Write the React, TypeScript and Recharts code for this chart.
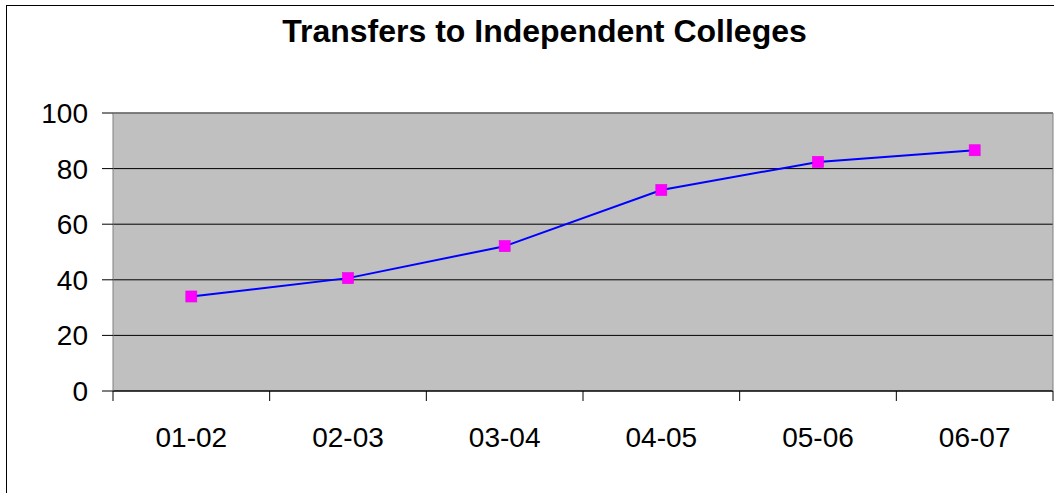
import React from 'react';
import { LineChart, Line, XAxis, YAxis, CartesianGrid, ReferenceLine } from 'recharts';

const categories = ['01-02', '02-03', '03-04', '04-05', '05-06', '06-07'];
const transfers = [34, 40.6, 52.1, 72.3, 82.4, 86.6];
const yTicks = [0, 20, 40, 60, 80, 100];
const title = 'Transfers to Independent Colleges';

const data = categories.map((c, i) => ({ pos: i + 0.5, label: c, value: transfers[i] }));
// boundaries (integers) get a tick mark, centers (halves) get the category label
const xTicks: number[] = [];
for (let i = 0; i <= categories.length; i++) {
  xTicks.push(i);
  if (i < categories.length) xTicks.push(i + 0.5);
}

const FONT = '"Liberation Sans", Arial, sans-serif';

const renderSquare = (props: any) => {
  const { cx, cy, index } = props;
  if (cx == null || cy == null) return <g key={`d${index}`} />;
  return (
    <rect
      key={`d${index}`}
      x={cx - 5.5}
      y={cy - 5.5}
      width={11}
      height={11}
      fill="#FF00FF"
      stroke="#E400E4"
      strokeWidth={0.6}
    />
  );
};

const XTick = (props: any) => {
  const { x, y, payload } = props;
  const v = payload.value as number;
  if (Number.isInteger(v)) {
    return <line x1={x} y1={y} x2={x} y2={y + 10} stroke="#000" strokeWidth={1} />;
  }
  return (
    <text
      x={x}
      y={y + 36}
      dy="0.71em"
      textAnchor="middle"
      fill="#000"
      fontSize={28}
      fontFamily={FONT}
    >
      {categories[Math.floor(v)]}
    </text>
  );
};

export default function App() {
  return (
    <div
      style={{
        position: 'absolute',
        left: 0,
        top: 0,
        width: 1054,
        height: 493,
        overflow: 'hidden',
        background: '#fff',
      }}
    >
      <div
        style={{
          position: 'absolute',
          left: 6,
          top: 5,
          width: 1200,
          height: 700,
          border: '1px solid #000',
          boxSizing: 'border-box',
        }}
      />
      <div
        style={{
          position: 'absolute',
          left: 0,
          top: 12,
          width: 1089,
          textAlign: 'center',
          fontFamily: FONT,
          fontWeight: 'bold',
          fontSize: 32,
          lineHeight: '38px',
          color: '#000',
        }}
      >
        {title}
      </div>
      <div style={{ position: 'absolute', left: 0, top: 0 }}>
        <LineChart
          width={1054}
          height={493}
          data={data}
          margin={{ top: 113, right: 0, left: 0, bottom: 0 }}
        >
          <CartesianGrid
            vertical={false}
            stroke="#000"
            strokeWidth={1}
            fill="#C0C0C0"
            fillOpacity={1}
          />
          <XAxis
            type="number"
            dataKey="pos"
            domain={[0, 6]}
            ticks={xTicks}
            interval={0}
            height={102}
            tickSize={0}
            tickMargin={0}
            tickLine={false}
            axisLine={{ stroke: '#000' }}
            tick={<XTick />}
          />
          <YAxis
            domain={[0, 100]}
            ticks={yTicks}
            interval={0}
            width={113}
            tickSize={11}
            tickMargin={14}
            tickLine={{ stroke: '#000' }}
            axisLine={{ stroke: '#808080' }}
            tick={{ fill: '#000', fontSize: 28, fontFamily: FONT }}
          />
          <YAxis
            yAxisId="r"
            orientation="right"
            domain={[0, 100]}
            width={1}
            tick={false}
            tickLine={false}
            axisLine={{ stroke: '#808080' }}
          />
          <ReferenceLine y={100} stroke="#808080" strokeWidth={1.5} />
          <Line
            type="linear"
            dataKey="value"
            stroke="#0000FF"
            strokeWidth={2}
            dot={renderSquare}
            activeDot={false}
            isAnimationActive={false}
          />
        </LineChart>
      </div>
    </div>
  );
}
